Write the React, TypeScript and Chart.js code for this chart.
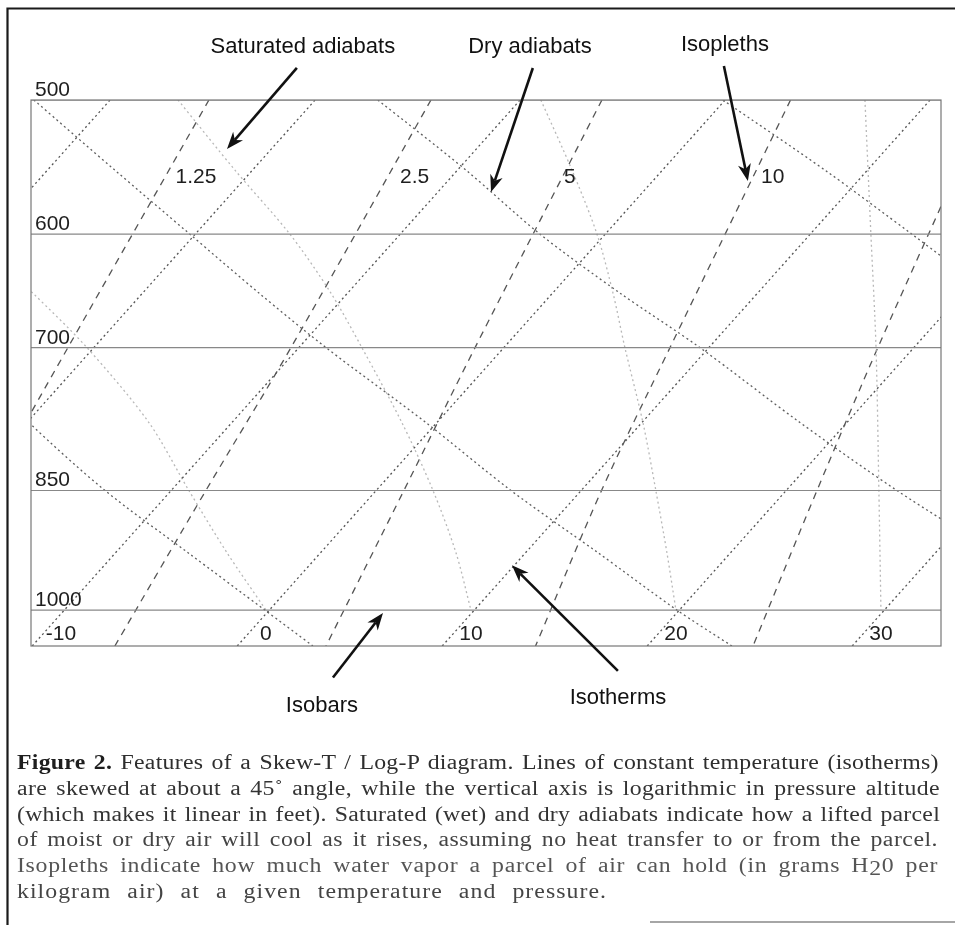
import { useEffect, useMemo, useRef } from 'react';
import { Chart, registerables } from 'chart.js';

Chart.register(...registerables);

// ---- axes (x: skewed temperature position, read at the 1000 hPa level; y: pressure, log) ----
const X_MIN = -11.46;
const X_MAX = 32.93;
const P_MIN = 500;
const P_MAX = 1050;

// ---- isobars (hPa) ----
const ISOBARS = [500, 600, 700, 850, 1000];

// ---- isotherms: -30 .. 30 °C, horizontal position at 500 hPa and at 1050 hPa ----
const ISOTHERM_X_500 = [-7.6, 2.4, 12.4, 22.4, 32.4, 42.4, 52.4];
const ISOTHERM_X_1050 = [-31.4, -21.4, -11.4, -1.4, 8.6, 18.6, 28.6];
const ISOTHERM_TICKS = [-10, 0, 10, 20, 30];

// ---- pressure levels used to read the curved lines ----
const LEVELS = [500, 550, 600, 650, 700, 775, 850, 925, 1000, 1050];

// ---- dry adiabats ----
const DRY_0_P = [700, 775, 850, 925, 1000, 1050];
const DRY_0_X = [-15.12, -11.56, -7.85, -3.8, -0.05, 2.29];
const DRY_20_P = LEVELS;
const DRY_20_X = [-11.32, -7.37, -3.71, -0.34, 2.93, 7.8, 11.95, 16.2, 20.05, 22.73];
const DRY_40_P = [500, 550, 600, 650, 700, 775, 850, 925];
const DRY_40_X = [5.46, 9.76, 13.37, 17.27, 21.17, 26.05, 30.78, 35.56];
const DRY_60_P = [500, 550, 600, 650];
const DRY_60_X = [22.29, 27.27, 31.51, 35.32];

// ---- saturated adiabats ----
const SAT_0_P = [640, 650, 700, 775, 850, 925, 1000];
const SAT_0_X = [-12.0, -11.37, -8.73, -5.71, -3.76, -1.9, 0];
const SAT_10_P = [500, 550, 600, 650, 700, 775, 850, 925, 1000];
const SAT_10_X = [-4.29, -1.51, 1.17, 3.17, 4.68, 6.63, 8.15, 9.27, 10.0];
const SAT_20_P = [500, 550, 600, 650, 700, 775, 850, 925, 1000];
const SAT_20_X = [13.41, 14.93, 16.15, 16.93, 17.51, 18.39, 19.02, 19.56, 20.0];
const SAT_30_P = [500, 600, 700, 850, 1000];
const SAT_30_X = [29.22, 29.51, 29.76, 29.9, 30.0];

// ---- isopleths (mixing ratio, g/kg) ----
const ISOPLETH_P = [500, 700, 850, 1050];
const ISOPLETH_1_25_X = [-2.78, -9.66, -13.61, -17.95];
const ISOPLETH_2_5_X = [8.05, 1.22, -2.93, -7.37];
const ISOPLETH_5_X = [16.39, 10.2, 6.73, 2.93];
const ISOPLETH_10_X = [25.59, 19.71, 16.37, 13.15];
const ISOPLETH_20_X = [35.27, 29.85, 26.88, 23.76];
const ISOPLETH_LABELS = ['1.25', '2.5', '5', '10'];
const ISOPLETH_LABEL_X = [-4.41, 6.54, 14.54, 24.15];
const ISOPLETH_LABEL_P = 560;

// ---- annotations ----
const NOTE_TEXT = ['Saturated adiabats', 'Dry adiabats', 'Isopleths', 'Isobars', 'Isotherms'];
const NOTE_X = [1.8, 12.88, 22.39, 2.73, 17.17];
const NOTE_P = [465.3, 465.3, 464.0, 1139, 1127];
const ARROW_TAIL_X = [1.51, 13.02, 22.34, 3.27, 17.17];
const ARROW_TAIL_P = [478.7, 478.7, 477.4, 1096, 1086];
const ARROW_TIP_X = [-1.9, 10.98, 23.51, 5.71, 12.0];
const ARROW_TIP_P = [534.4, 566.6, 558.2, 1004, 941];

// ---- caption ----
const CAPTION_BOLD = 'Figure 2.';
const CAPTION_LINES = [
  ' Features of a Skew-T / Log-P diagram. Lines of constant temperature (isotherms)',
  'are skewed at about a 45˚ angle, while the vertical axis is logarithmic in pressure altitude',
  '(which makes it linear in feet). Saturated (wet) and dry adiabats indicate how a lifted parcel',
  'of moist or dry air will cool as it rises, assuming no heat transfer to or from the parcel.',
  'Isopleths indicate how much water vapor a parcel of air can hold (in grams H20 per',
  'kilogram air) at a given temperature and pressure.',
];
const CAPTION_WIDTHS = [923, 923, 923, 921, 921, 590];
const CAPTION_COLORS = ['#2e2e2e', '#333', '#333', '#444', '#555', '#444'];

const SANS = '"Liberation Sans", Arial, Helvetica, sans-serif';
const SERIF = '"Liberation Serif", "Times New Roman", serif';
const CAPTION_SIZE = 20.5;
const CAPTION_STRETCH = 1.16;

function pts(ps: number[], xs: number[]) {
  return ps.map((p, i) => ({ x: xs[i], y: p }));
}

const dotted = (color: string) => ({
  borderColor: color,
  borderWidth: 1.3,
  borderDash: [2, 3],
  borderCapStyle: 'butt' as const,
  pointRadius: 0,
  fill: false,
  tension: 0.3,
});

const dashed = {
  borderColor: '#555',
  borderWidth: 1.3,
  borderDash: [7, 6],
  borderCapStyle: 'butt' as const,
  pointRadius: 0,
  fill: false,
  tension: 0.3,
};

function drawArrow(ctx: CanvasRenderingContext2D, x1: number, y1: number, x2: number, y2: number) {
  const a = Math.atan2(y2 - y1, x2 - x1);
  const c = Math.cos(a);
  const s = Math.sin(a);
  const L = 17;
  const W = 6.5;
  const N = 12;
  ctx.beginPath();
  ctx.moveTo(x1, y1);
  ctx.lineTo(x2 - c * N, y2 - s * N);
  ctx.lineWidth = 2.6;
  ctx.stroke();
  ctx.beginPath();
  ctx.moveTo(x2, y2);
  ctx.lineTo(x2 - L * c + W * s, y2 - L * s - W * c);
  ctx.lineTo(x2 - N * c, y2 - N * s);
  ctx.lineTo(x2 - L * c - W * s, y2 - L * s + W * c);
  ctx.closePath();
  ctx.fill();
}

const decor = {
  id: 'decor',
  beforeDraw(chart: any) {
    const ctx = chart.ctx;
    ctx.save();
    ctx.fillStyle = '#fff';
    ctx.fillRect(0, 0, chart.width, chart.height);
    ctx.restore();
  },
  afterDatasetsDraw(chart: any) {
    const ctx: CanvasRenderingContext2D = chart.ctx;
    const a = chart.chartArea;
    const xs = chart.scales.x;
    const ys = chart.scales.y;
    ctx.save();
    ctx.strokeStyle = '#777';
    ctx.lineWidth = 1.2;
    ctx.strokeRect(a.left, a.top, a.right - a.left, a.bottom - a.top);

    ctx.fillStyle = '#1e1e1e';
    ctx.font = `21px ${SANS}`;
    ctx.textAlign = 'left';
    ctx.textBaseline = 'alphabetic';
    ISOBARS.forEach((p) => {
      ctx.fillText(String(p), a.left + 4, ys.getPixelForValue(p) - 4);
    });
    ctx.textAlign = 'center';
    ISOTHERM_TICKS.forEach((t) => {
      ctx.fillText(String(t), xs.getPixelForValue(t), a.bottom - 6);
    });
    ctx.textAlign = 'left';
    ISOPLETH_LABELS.forEach((l, i) => {
      ctx.fillText(l, xs.getPixelForValue(ISOPLETH_LABEL_X[i]), ys.getPixelForValue(ISOPLETH_LABEL_P));
    });

    ctx.font = `22px ${SANS}`;
    ctx.textAlign = 'center';
    ctx.textBaseline = 'middle';
    ctx.fillStyle = '#111';
    NOTE_TEXT.forEach((t, i) => {
      ctx.fillText(t, xs.getPixelForValue(NOTE_X[i]), ys.getPixelForValue(NOTE_P[i]));
    });
    ctx.strokeStyle = '#111';
    ctx.fillStyle = '#111';
    NOTE_TEXT.forEach((_, i) => {
      drawArrow(
        ctx,
        xs.getPixelForValue(ARROW_TAIL_X[i]),
        ys.getPixelForValue(ARROW_TAIL_P[i]),
        xs.getPixelForValue(ARROW_TIP_X[i]),
        ys.getPixelForValue(ARROW_TIP_P[i])
      );
    });

    ctx.strokeStyle = '#1a1a1a';
    ctx.lineWidth = 2.2;
    ctx.beginPath();
    ctx.moveTo(7.5, 925);
    ctx.lineTo(7.5, 8.5);
    ctx.lineTo(955, 8.5);
    ctx.stroke();
    ctx.strokeStyle = '#888';
    ctx.lineWidth = 1.5;
    ctx.beginPath();
    ctx.moveTo(650, 922);
    ctx.lineTo(955, 922);
    ctx.stroke();
    ctx.restore();
  },
};

export default function App() {
  const ref = useRef<HTMLCanvasElement | null>(null);

  // letter / word spacing so each caption line spans the same width as in the figure
  const spacing = useMemo(() => {
    const c = document.createElement('canvas').getContext('2d') as CanvasRenderingContext2D;
    return CAPTION_LINES.map((text, i) => {
      c.font = `${CAPTION_SIZE}px ${SERIF}`;
      let w = c.measureText(text).width;
      let n = text.length;
      let spaces = (text.match(/ /g) || []).length;
      if (i === 0) {
        c.font = `bold ${CAPTION_SIZE}px ${SERIF}`;
        w += c.measureText(CAPTION_BOLD).width;
        n += CAPTION_BOLD.length;
        spaces += 1;
      }
      const target = CAPTION_WIDTHS[i] / CAPTION_STRETCH;
      const extra = target - w;
      const ls = (0.45 * extra) / n;
      const ws = (0.55 * extra) / Math.max(1, spaces);
      return { ls, ws, target };
    });
  }, []);

  useEffect(() => {
    if (!ref.current) return;
    const datasets: any[] = [];
    ISOBARS.forEach((p) => {
      datasets.push({
        data: [{ x: X_MIN, y: p }, { x: X_MAX, y: p }],
        borderColor: '#888',
        borderWidth: 1.1,
        pointRadius: 0,
        fill: false,
      });
    });
    ISOTHERM_X_500.forEach((xt, i) => {
      datasets.push({
        data: [{ x: ISOTHERM_X_1050[i], y: 1050 }, { x: xt, y: 500 }],
        ...dotted('#555'),
        tension: 0,
      });
    });
    [
      [DRY_0_P, DRY_0_X],
      [DRY_20_P, DRY_20_X],
      [DRY_40_P, DRY_40_X],
      [DRY_60_P, DRY_60_X],
    ].forEach(([p, x]) => datasets.push({ data: pts(p, x), ...dotted('#5e5e5e') }));
    [
      [SAT_0_P, SAT_0_X],
      [SAT_10_P, SAT_10_X],
      [SAT_20_P, SAT_20_X],
      [SAT_30_P, SAT_30_X],
    ].forEach(([p, x]) => datasets.push({ data: pts(p, x), ...dotted('#b8b8b8') }));
    [ISOPLETH_1_25_X, ISOPLETH_2_5_X, ISOPLETH_5_X, ISOPLETH_10_X, ISOPLETH_20_X].forEach((x) =>
      datasets.push({ data: pts(ISOPLETH_P, x), ...dashed })
    );

    const chart = new Chart(ref.current, {
      type: 'line',
      data: { datasets },
      options: {
        responsive: false,
        devicePixelRatio: 1,
        animation: false,
        events: [],
        layout: { padding: { left: 31, right: 14, top: 100, bottom: 279 } },
        scales: {
          x: { type: 'linear', min: X_MIN, max: X_MAX, display: false, bounds: 'data' },
          y: { type: 'logarithmic', min: P_MIN, max: P_MAX, reverse: true, display: false, bounds: 'data' },
        },
        plugins: { legend: { display: false }, tooltip: { enabled: false } },
      } as any,
      plugins: [decor],
    });
    return () => chart.destroy();
  }, []);

  const lineStyle = (i: number): any => ({
    whiteSpace: 'nowrap',
    letterSpacing: `${spacing[i].ls}px`,
    wordSpacing: `${spacing[i].ws}px`,
    color: CAPTION_COLORS[i],
    width: spacing[i].target + 40,
    transform: `scaleX(${CAPTION_STRETCH})`,
    transformOrigin: 'left top',
  });

  const renderLine = (text: string, i: number) => {
    if (i === 4) {
      const k = text.indexOf('H20');
      return (
        <div key={i} style={lineStyle(i)}>
          {text.slice(0, k + 1)}
          <span style={{ position: 'relative', top: 3 }}>2</span>
          {text.slice(k + 2)}
        </div>
      );
    }
    if (i === 0) {
      return (
        <div key={i} style={lineStyle(i)}>
          <b style={{ color: '#1e1e1e' }}>{CAPTION_BOLD}</b>
          {text}
        </div>
      );
    }
    return (
      <div key={i} style={lineStyle(i)}>
        {text}
      </div>
    );
  };

  return (
    <div style={{ position: 'absolute', left: 0, top: 0, width: 955, height: 925, background: '#fff', overflow: 'hidden' }}>
      <canvas ref={ref} width={955} height={925} style={{ display: 'block', width: 955, height: 925 }} />
      <div
        style={{
          position: 'absolute',
          left: 17,
          top: 750,
          width: 923,
          fontFamily: SERIF,
          fontSize: CAPTION_SIZE,
          lineHeight: '25.8px',
        }}
      >
        {CAPTION_LINES.map(renderLine)}
      </div>
    </div>
  );
}
